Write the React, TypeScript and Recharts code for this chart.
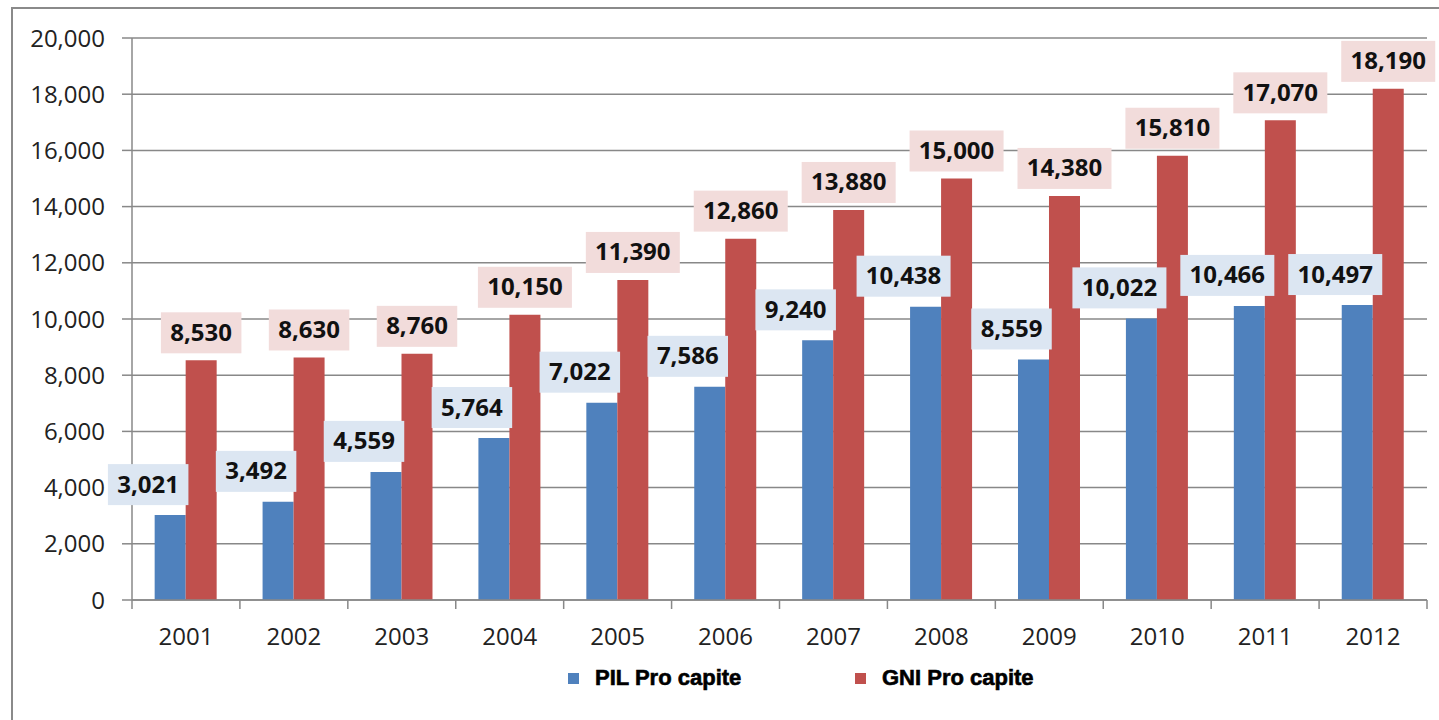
import React from 'react';
import { BarChart, Bar, XAxis, YAxis, CartesianGrid, LabelList } from 'recharts';

const years = ['2001', '2002', '2003', '2004', '2005', '2006', '2007', '2008', '2009', '2010', '2011', '2012'];
const pilValues = [3021, 3492, 4559, 5764, 7022, 7586, 9240, 10438, 8559, 10022, 10466, 10497];
const gniValues = [8530, 8630, 8760, 10150, 11390, 12860, 13880, 15000, 14380, 15810, 17070, 18190];
const yTicks = [0, 2000, 4000, 6000, 8000, 10000, 12000, 14000, 16000, 18000, 20000];
const seriesNames = ['PIL Pro capite', 'GNI Pro capite'];
const seriesColors = ['#4f81bd', '#c0504d'];
const labelBg = ['#dce6f2', '#f2dcdb'];

const data = years.map((y, i) => ({ year: y, pil: pilValues[i], gni: gniValues[i] }));

const W = 1439;
const H = 720;
const M_LEFT = 12;
const Y_W = 120;
const M_RIGHT = 12;
const M_TOP = 38;
const X_H = 50;
const M_BOTTOM = 70;
const PLOT_W = W - M_LEFT - Y_W - M_RIGHT;
const BAND = PLOT_W / years.length;
const AXIS_COLOR = '#888888';

const fmt = (v: number) => v.toLocaleString('en-US');

const makeLabel = (bg: string, dx: number, gap: number) => (props: any) => {
  const x = Number(props.x);
  const y = Number(props.y);
  const width = Number(props.width);
  const text = fmt(Number(props.value));
  const boxW = text.length * 13.5 + 13;
  const boxH = 41;
  const cx = x + width / 2 + dx;
  const bottom = y - gap;
  return (
    <g>
      <rect x={cx - boxW / 2} y={bottom - boxH} width={boxW} height={boxH} fill={bg} />
      <text
        x={cx}
        y={bottom - boxH / 2 + 8}
        textAnchor="middle"
        fontFamily="'Open Sans', sans-serif"
        fontWeight={700}
        fontSize={24}
        fill="#111"
      >
        {text}
      </text>
    </g>
  );
};

const XTick = (props: any) => {
  const { x, y, payload, index } = props;
  const last = index === years.length - 1;
  return (
    <g>
      <line x1={x - BAND / 2} x2={x - BAND / 2} y1={y} y2={y + 9} stroke={AXIS_COLOR} strokeWidth={1.5} />
      {last && <line x1={x + BAND / 2} x2={x + BAND / 2} y1={y} y2={y + 9} stroke={AXIS_COLOR} strokeWidth={1.5} />}
      <text x={x} y={y + 45} textAnchor="middle" fontFamily="'Open Sans', sans-serif" fontSize={24} fill="#222">
        {payload.value}
      </text>
    </g>
  );
};

export default function App() {
  return (
    <div style={{ position: 'absolute', left: 0, top: 0, width: W, height: H, overflow: 'hidden', background: '#fff' }}>
      <div
        style={{
          position: 'absolute',
          left: 11,
          top: 7,
          width: W,
          height: H,
          border: '2px solid #8a8a8a',
          boxSizing: 'border-box',
        }}
      />
      <div style={{ position: 'absolute', left: 0, top: 0 }}>
        <BarChart
          width={W}
          height={H}
          data={data}
          margin={{ top: M_TOP, right: M_RIGHT, left: M_LEFT, bottom: M_BOTTOM }}
          barGap={0}
          barCategoryGap="21%"
        >
          <CartesianGrid horizontal vertical={false} stroke={AXIS_COLOR} strokeWidth={1.5} />
          <XAxis
            dataKey="year"
            height={X_H}
            tickSize={0}
            tickMargin={0}
            tickLine={false}
            axisLine={{ stroke: AXIS_COLOR, strokeWidth: 1.5 }}
            tick={<XTick />}
            interval={0}
          />
          <YAxis
            width={Y_W}
            domain={[0, 20000]}
            ticks={yTicks}
            interval={0}
            tickSize={10}
            tickMargin={17}
            tickFormatter={fmt}
            axisLine={{ stroke: AXIS_COLOR, strokeWidth: 1.5 }}
            tickLine={{ stroke: AXIS_COLOR, strokeWidth: 1.5 }}
            tick={{ fontFamily: "'Open Sans', sans-serif", fontSize: 24, fill: '#222' }}
          />
          <Bar dataKey="pil" name={seriesNames[0]} fill={seriesColors[0]} isAnimationActive={false}>
            <LabelList dataKey="pil" content={makeLabel(labelBg[0], -22, 10)} />
          </Bar>
          <Bar dataKey="gni" name={seriesNames[1]} fill={seriesColors[1]} isAnimationActive={false}>
            <LabelList dataKey="gni" content={makeLabel(labelBg[1], 0, 7)} />
          </Bar>
        </BarChart>
      </div>
      <svg style={{ position: 'absolute', left: 0, top: 0 }} width={W} height={H} pointerEvents="none">
        {seriesNames.map((name, i) => {
          const lx = i === 0 ? 568 : 855;
          return (
            <g key={name}>
              <rect x={lx} y={673} width={11} height={11} fill={seriesColors[i]} />
              <text
                x={lx + 27}
                y={685}
                fontFamily="'Liberation Sans', Arial, sans-serif"
                fontWeight={700}
                fontSize={22}
                fill="#000"
                stroke="#000"
                strokeWidth={0.6}
              >
                {name}
              </text>
            </g>
          );
        })}
      </svg>
    </div>
  );
}
